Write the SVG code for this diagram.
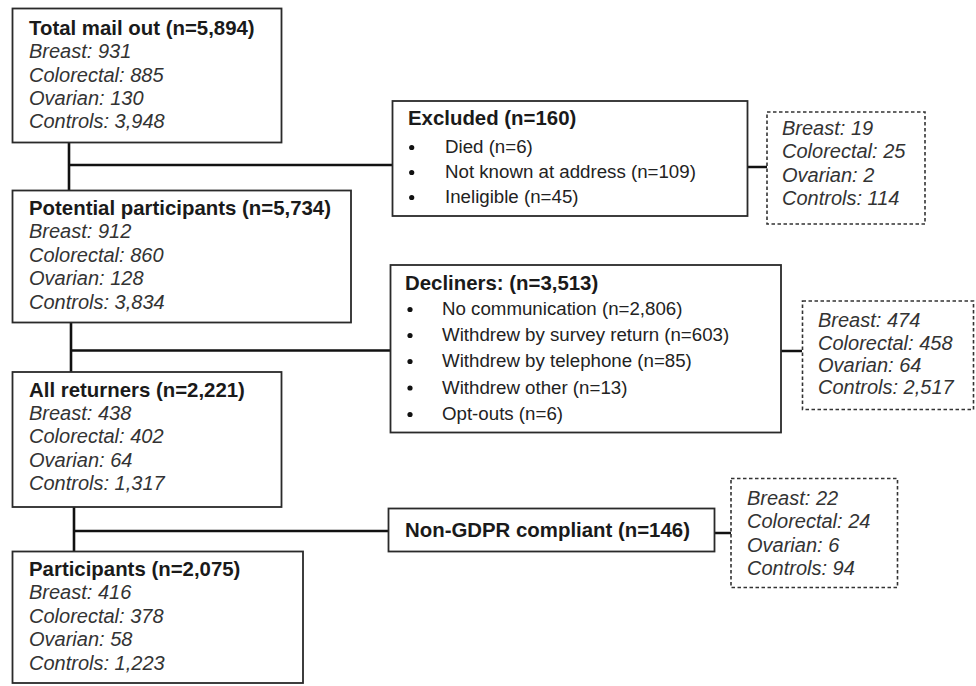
<svg xmlns="http://www.w3.org/2000/svg" width="976" height="686" viewBox="0 0 976 686">
<style>
.box{fill:#fff;stroke:#2a2a2a;stroke-width:1.8}
.dbox{fill:#fff;stroke:#333;stroke-width:1.6;stroke-dasharray:3.5 2.5}
.ttl{font-family:"Liberation Sans",Arial,sans-serif;font-weight:bold;font-size:20.4px;fill:#1a1a1a}
.it{font-family:"Liberation Sans",Arial,sans-serif;font-style:italic;font-size:20px;fill:#333}
.bul{font-family:"Liberation Sans",Arial,sans-serif;font-size:18.7px;fill:#222}
.con{stroke:#111;stroke-width:2.6;fill:none}
</style>
<rect width="976" height="686" fill="#fff"/>
<g id="connectors">
<path class="con" d="M69 143V191M69 165H392M748 167H767"/>
<path class="con" d="M71 323V372M71 350.5H390M781 351H802"/>
<path class="con" d="M74 507V552M74 531H388M714 533H731"/>
</g>
<g id="total">
<rect class="box" x="12.5" y="8.5" width="269" height="134"/>
<text class="ttl" x="29" y="35">Total mail out (n=5,894)</text>
<text class="it" x="29" y="58.3">Breast: 931</text>
<text class="it" x="29" y="81.6">Colorectal: 885</text>
<text class="it" x="29" y="105">Ovarian: 130</text>
<text class="it" x="29" y="128.3">Controls: 3,948</text>
</g>
<g id="potential">
<rect class="box" x="12.5" y="190.5" width="338.5" height="132"/>
<text class="ttl" x="29" y="214.5">Potential participants (n=5,734)</text>
<text class="it" x="29" y="238">Breast: 912</text>
<text class="it" x="29" y="261.5">Colorectal: 860</text>
<text class="it" x="29" y="285">Ovarian: 128</text>
<text class="it" x="29" y="308.5">Controls: 3,834</text>
</g>
<g id="returners">
<rect class="box" x="12.5" y="372" width="269" height="135"/>
<text class="ttl" x="29" y="396.7">All returners (n=2,221)</text>
<text class="it" x="29" y="420">Breast: 438</text>
<text class="it" x="29" y="443.3">Colorectal: 402</text>
<text class="it" x="29" y="466.7">Ovarian: 64</text>
<text class="it" x="29" y="490">Controls: 1,317</text>
</g>
<g id="participants">
<rect class="box" x="12.5" y="551.5" width="290.5" height="131.5"/>
<text class="ttl" x="29" y="575.5">Participants (n=2,075)</text>
<text class="it" x="29" y="599">Breast: 416</text>
<text class="it" x="29" y="622.5">Colorectal: 378</text>
<text class="it" x="29" y="646">Ovarian: 58</text>
<text class="it" x="29" y="669.5">Controls: 1,223</text>
</g>
<g id="excluded">
<rect class="box" x="392.5" y="101" width="355" height="115"/>
<text class="ttl" x="408" y="125">Excluded (n=160)</text>
<circle cx="411.7" cy="147.5" r="2.6" fill="#111"/>
<circle cx="411.7" cy="172.5" r="2.6" fill="#111"/>
<circle cx="411.7" cy="197.5" r="2.6" fill="#111"/>
<text class="bul" x="445" y="153.3">Died (n=6)</text>
<text class="bul" x="445" y="178.3">Not known at address (n=109)</text>
<text class="bul" x="445" y="203.3">Ineligible (n=45)</text>
</g>
<g id="excluded-split">
<rect class="dbox" x="767" y="112" width="158" height="112"/>
<text class="it" x="782" y="135">Breast: 19</text>
<text class="it" x="782" y="158.3">Colorectal: 25</text>
<text class="it" x="782" y="181.6">Ovarian: 2</text>
<text class="it" x="782" y="205">Controls: 114</text>
</g>
<g id="decliners">
<rect class="box" x="390.5" y="265" width="390.5" height="167.5"/>
<text class="ttl" x="405" y="290">Decliners: (n=3,513)</text>
<circle cx="410" cy="309.5" r="2.6" fill="#111"/>
<circle cx="410" cy="335.5" r="2.6" fill="#111"/>
<circle cx="410" cy="361.5" r="2.6" fill="#111"/>
<circle cx="410" cy="388" r="2.6" fill="#111"/>
<circle cx="410" cy="414.5" r="2.6" fill="#111"/>
<text class="bul" x="442" y="315">No communication (n=2,806)</text>
<text class="bul" x="442" y="341">Withdrew by survey return (n=603)</text>
<text class="bul" x="442" y="367.3">Withdrew by telephone (n=85)</text>
<text class="bul" x="442" y="393.7">Withdrew other (n=13)</text>
<text class="bul" x="442" y="420">Opt-outs (n=6)</text>
</g>
<g id="decliners-split">
<rect class="dbox" x="802.5" y="301" width="171" height="108.5"/>
<text class="it" x="818" y="327">Breast: 474</text>
<text class="it" x="818" y="349.5">Colorectal: 458</text>
<text class="it" x="818" y="371.5">Ovarian: 64</text>
<text class="it" x="818" y="393.5">Controls: 2,517</text>
</g>
<g id="nongdpr">
<rect class="box" x="388.5" y="508.5" width="326" height="43"/>
<text class="ttl" x="405" y="537">Non-GDPR compliant (n=146)</text>
</g>
<g id="nongdpr-split">
<rect class="dbox" x="731" y="478.5" width="166.5" height="109"/>
<text class="it" x="747" y="505">Breast: 22</text>
<text class="it" x="747" y="528.3">Colorectal: 24</text>
<text class="it" x="747" y="551.6">Ovarian: 6</text>
<text class="it" x="747" y="575">Controls: 94</text>
</g>
</svg>
